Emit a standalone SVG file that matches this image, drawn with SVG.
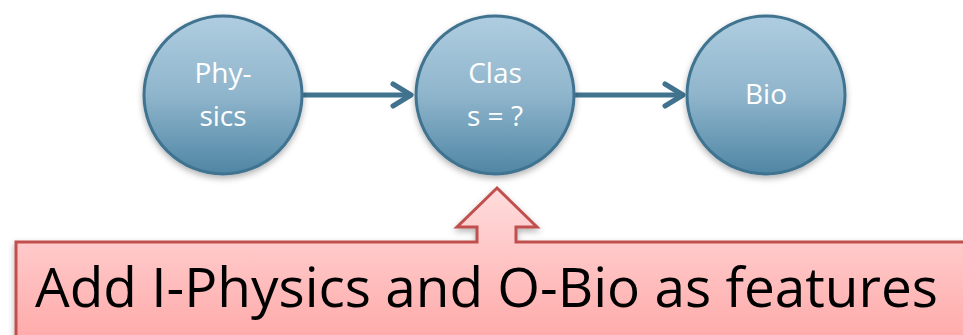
<svg xmlns="http://www.w3.org/2000/svg" width="963" height="335" viewBox="0 0 963 335">
<defs>
<linearGradient id="gc" x1="0" y1="0" x2="0" y2="1">
<stop offset="0" stop-color="#afcde0"/>
<stop offset="0.5" stop-color="#8fb5cc"/>
<stop offset="1" stop-color="#4f86a4"/>
</linearGradient>
<linearGradient id="gp" x1="0" y1="0" x2="0" y2="1">
<stop offset="0" stop-color="#ffdcdc"/>
<stop offset="1" stop-color="#ffa8a8"/>
</linearGradient>
<filter id="sh" x="-20%" y="-20%" width="140%" height="140%">
<feDropShadow dx="0" dy="3" stdDeviation="3" flood-color="#000" flood-opacity="0.3"/>
</filter>
<marker id="ah" markerWidth="8" markerHeight="10" refX="6" refY="5" orient="auto" markerUnits="userSpaceOnUse" viewBox="0 0 8 10" overflow="visible">
<path d="M-12,-6 L6,5 L-12,16" fill="none" stroke="#41738f" stroke-width="5" stroke-linecap="round" stroke-linejoin="round"/>
</marker>
</defs>
<style>
.node circle{fill:url(#gc);stroke:#3f7390;stroke-width:3;filter:url(#sh)}
.lbl{font-family:"Open Sans","Liberation Sans",sans-serif;font-size:28px;fill:#ffffff;text-anchor:middle}
.conn line{stroke:#41738f;stroke-width:5;marker-end:url(#ah)}
</style>
<g class="conn">
<line x1="303" y1="95" x2="411" y2="95"/>
<line x1="574" y1="95" x2="683" y2="95"/>
</g>
<g id="physics" class="node">
<circle cx="223" cy="95" r="79"/>
<text class="lbl" x="223" y="83">Phy-</text>
<text class="lbl" x="223" y="126">sics</text>
</g>
<g id="class" class="node">
<circle cx="495" cy="95" r="79"/>
<text class="lbl" x="495" y="83">Clas</text>
<text class="lbl" x="495" y="126">s = ?</text>
</g>
<g id="bio" class="node">
<circle cx="766" cy="95" r="79"/>
<text class="lbl" x="766" y="104">Bio</text>
</g>
<g id="callout">
<path d="M16,242 H477 V227 H457 L497,188 L537,227 H516 V242 H970 V345 H16 Z" fill="url(#gp)" stroke="#c0504d" stroke-width="3" filter="url(#sh)"/>
<text x="35" y="307" font-family="'Open Sans','Liberation Sans',sans-serif" font-size="55" fill="#000" textLength="903" lengthAdjust="spacingAndGlyphs">Add I-Physics and O-Bio as features</text>
</g>
</svg>
